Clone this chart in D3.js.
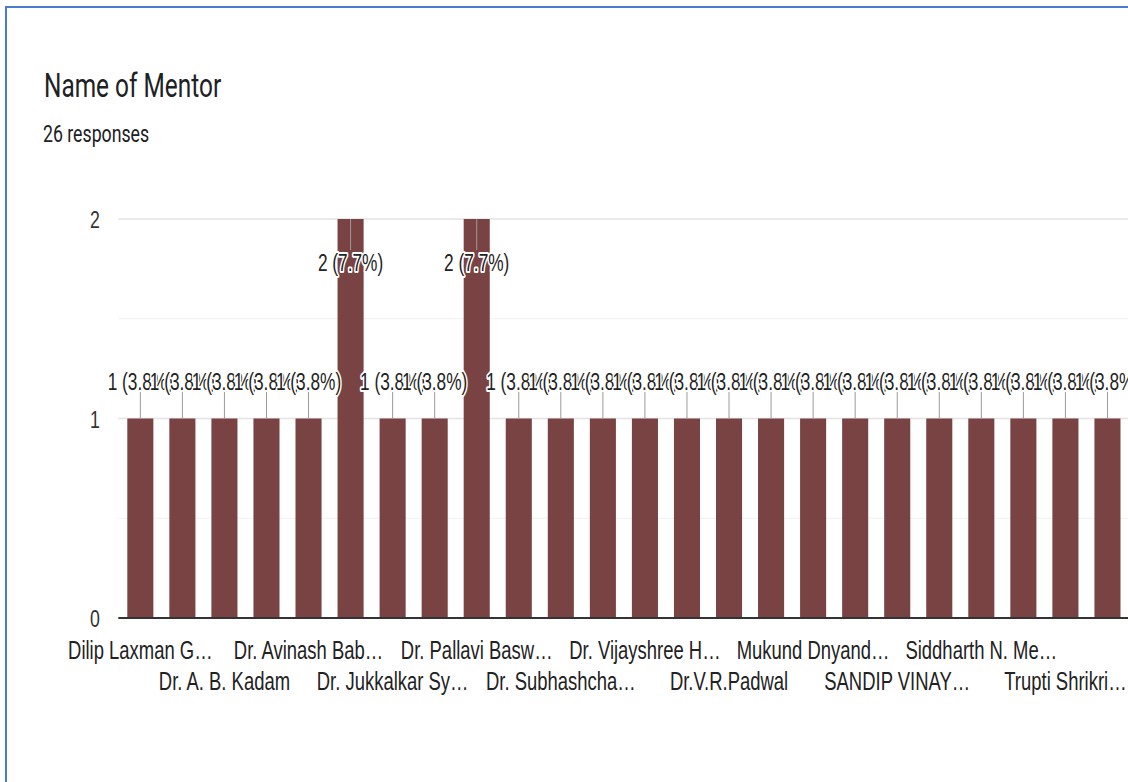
<!DOCTYPE html>
<html>
<head>
<meta charset="utf-8">
<script src="https://cdn.jsdelivr.net/npm/d3@7"></script>
<style>
  html, body { margin: 0; padding: 0; background: #fff; }
  svg { display: block; }
</style>
</head>
<body>
<svg id="chart" width="1128" height="782"></svg>
<script>
// ---- data ----
const chartTitle = "Name of Mentor";
const responsesLabel = "26 responses";
const values = [1, 1, 1, 1, 1, 2, 1, 1, 2, 1, 1, 1, 1, 1, 1, 1, 1, 1, 1, 1, 1, 1, 1, 1];
// visible (every second) category labels, in category order 0,2,4,...
const tickLabels = [
  "Dilip Laxman G…", "Dr. A. B. Kadam", "Dr. Avinash Bab…", "Dr. Jukkalkar Sy…",
  "Dr. Pallavi Basw…", "Dr. Subhashcha…", "Dr. Vijayshree H…", "Dr.V.R.Padwal",
  "Mukund Dnyand…", "SANDIP VINAY…", "Siddharth N. Me…", "Trupti Shrikri…"
];
const yTicks = [0, 1, 2];
const yMinorTicks = [0.5, 1.5];

// ---- layout ----
const svg = d3.select("#chart");
const total = d3.sum(values);
const plot = { left: 118.3, right: 1129.5, top: 219, bottom: 618 };
const chartFont = "'Liberation Sans', Arial, sans-serif";

const x = d3.scaleBand()
  .domain(d3.range(values.length))
  .range([plot.left, plot.right])
  .paddingInner(0.38)
  .paddingOuter(0.214);
const y = d3.scaleLinear().domain([0, 2]).range([plot.bottom, plot.top]);

// card border
svg.append("rect")
  .attr("x", 6).attr("y", 7).attr("width", 1300).attr("height", 900)
  .attr("fill", "#fff").attr("stroke", "#4a7bcf").attr("stroke-width", 2);

function sText(g, txt, px, py, size, opts = {}) {
  return g.append("text")
    .attr("transform", `translate(${px},${py}) scale(${opts.sx || 0.75},1)`)
    .attr("text-anchor", opts.anchor || "start")
    .attr("font-family", opts.family || chartFont)
    .attr("font-size", size)
    .attr("fill", opts.fill || "#222")
    .text(txt);
}

// title + subtitle
sText(svg, chartTitle, 44, 97, 33, { family: "Roboto, sans-serif", fill: "#202124", sx: 0.74 });
sText(svg, responsesLabel, 43, 142, 23, { family: "Roboto, sans-serif", fill: "#202124", sx: 0.77 });

// gridlines
const grid = svg.append("g");
grid.selectAll("line.minor").data(yMinorTicks).join("line")
  .attr("class", "minor")
  .attr("x1", plot.left).attr("x2", 1128)
  .attr("y1", d => y(d)).attr("y2", d => y(d))
  .attr("stroke", "#f1f1f1").attr("stroke-width", 1);
grid.selectAll("line.major").data(yTicks.filter(d => d !== 0)).join("line")
  .attr("class", "major")
  .attr("x1", plot.left).attr("x2", 1128)
  .attr("y1", d => y(d)).attr("y2", d => y(d))
  .attr("stroke", "#e3e3e3").attr("stroke-width", 1.5);

// y tick labels
const yAxisG = svg.append("g");
yTicks.forEach(t => sText(yAxisG, String(t), 100, y(t) + 9, 24, { anchor: "end", fill: "#333", sx: 0.74 }));

// bars
svg.append("g").selectAll("rect").data(values).join("rect")
  .attr("x", (d, i) => x(i))
  .attr("y", d => y(d))
  .attr("width", x.bandwidth())
  .attr("height", d => y(0) - y(d))
  .attr("fill", "#7a4343");

// baseline
svg.append("line")
  .attr("x1", plot.left).attr("x2", 1128)
  .attr("y1", y(0)).attr("y2", y(0))
  .attr("stroke", "#333").attr("stroke-width", 2);

// annotations
const ann = values.map((v, i) => {
  const cx = x(i) + x.bandwidth() / 2;
  const top = y(v);
  const outside = top - 30 > plot.top;
  return {
    v, i, cx,
    base: outside ? top - 29 : top + 52,
    s1: outside ? top - 27 : top,
    s2: outside ? top : top + 31,
    text: `${v} (${(v / total * 100).toFixed(1)}%)`
  };
});
const annG = svg.append("g");
annG.selectAll("line").data(ann).join("line")
  .attr("x1", d => d.cx).attr("x2", d => d.cx)
  .attr("y1", d => d.s1).attr("y2", d => d.s2)
  .attr("stroke", "#9a9a9a").attr("stroke-width", 1);
ann.forEach(d => {
  sText(annG, d.text, d.cx, d.base, 24, { anchor: "middle", fill: "#222", sx: 0.72 })
    .attr("stroke", "#fff").attr("stroke-width", 4)
    .attr("stroke-linejoin", "round").attr("paint-order", "stroke");
});

// x tick labels (every second category, staggered on two rows)
const xAxisG = svg.append("g");
tickLabels.forEach((lab, k) => {
  const i = k * 2;
  const cx = x(i) + x.bandwidth() / 2;
  const row = k % 2;
  sText(xAxisG, lab, cx, row === 0 ? 659 : 690, 26, { anchor: "middle", fill: "#222", sx: 0.71 });
});
</script>
</body>
</html>
